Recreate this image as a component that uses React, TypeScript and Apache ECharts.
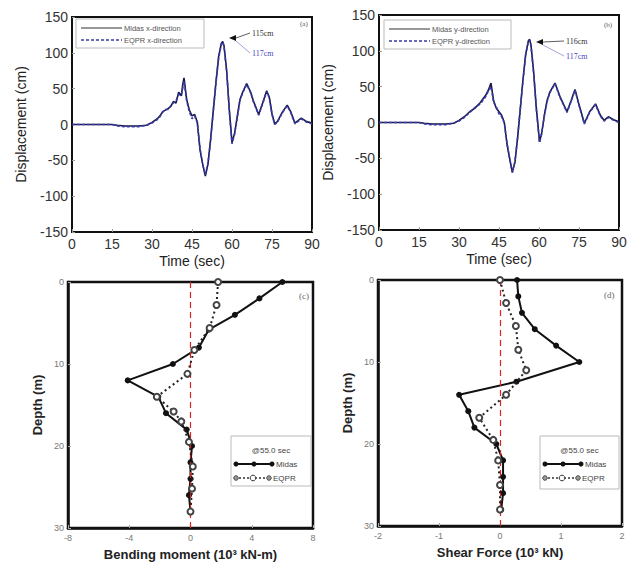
import React, { useEffect, useRef } from "react";
import * as echarts from "echarts";

// (a) x-direction displacement time history
const timeX = [0, 15, 17, 20, 25, 28, 30, 32, 33, 34, 35, 36, 37, 38, 39, 40, 41, 41.5, 42, 43, 44, 45, 46, 47, 48, 49, 50, 51, 52, 53, 54, 55, 56, 56.5, 57, 58, 59, 60, 61, 62, 63, 64, 65.5, 67, 68, 70, 71.5, 73, 74, 75, 76, 77, 79, 80.7, 82, 83.6, 85, 86, 88, 90];
const midasX = [0, 0, -1, -2, -2, -1, 3, 8, 12, 18, 20, 22, 25, 32, 30, 45, 40, 55, 65, 35, 20, 12, 14, 3, -35, -55, -72, -55, -20, 20, 60, 95, 113, 116, 110, 75, 20, -25, -12, 12, 35, 45, 57, 45, 33, 14, 30, 47, 38, 15, 1, 4, 18, 27, 18, 2, 6, 9, 4, 2];
const eqprX = [0, 0, -2, -3, -3, -1, 2, 7, 11, 17, 21, 21, 26, 30, 33, 42, 41, 50, 60, 33, 18, 8, 12, 2, -33, -56, -70, -54, -21, 19, 58, 93, 112, 115, 109, 74, 19, -27, -13, 10, 34, 44, 56, 44, 32, 13, 29, 46, 37, 14, 0, 3, 17, 26, 17, 1, 5, 8, 3, 1];

// (b) y-direction displacement time history
const timeY = [0, 15, 17, 20, 25, 28, 30, 32, 34, 36, 38, 40, 41, 42, 43, 44, 45, 46, 47, 48, 49, 50, 51, 52, 53, 54, 55, 56, 56.5, 57, 58, 59, 60.2, 61, 62, 63, 64, 66, 68, 70.5, 72, 73.5, 75, 77, 79, 81.2, 83, 84.4, 86, 88, 90];
const midasY = [0, 0, -1, -2, -2, -1, 3, 8, 15, 20, 28, 38, 45, 55, 30, 20, 15, 10, 0, -30, -50, -70, -55, -20, 20, 60, 95, 114, 116, 108, 70, 20, -27, -15, 10, 30, 42, 55, 35, 15, 30, 46, 25, -1, 15, 26, 10, 3, 8, 4, 1];
const eqprY = [0, 0, -2, -3, -3, -1, 2, 7, 14, 21, 26, 36, 44, 50, 28, 22, 12, 8, -1, -29, -51, -69, -54, -21, 19, 59, 94, 113, 115, 107, 69, 19, -28, -16, 9, 29, 41, 54, 34, 14, 29, 45, 24, -2, 14, 25, 9, 2, 7, 3, 0];

// (c) bending moment profile @55.0 sec
const momentMidasDepth = [0, 2, 4, 5.8, 8, 10, 12, 14, 16, 18, 20, 22, 24, 26, 28];
const momentMidas = [6.0, 4.5, 2.9, 1.2, 0.55, -1.15, -4.1, -2.1, -1.6, -0.25, 0.1, 0, 0, -0.1, 0];
const momentEqprDepth = [0, 2.8, 5.6, 8.3, 11.2, 14, 15.8, 17, 19.5, 22.5, 25.2, 28];
const momentEqpr = [1.8, 1.7, 1.25, 0.25, -0.2, -2.2, -1.1, -0.6, -0.1, 0.15, 0.1, 0];

// (d) shear force profile @55.0 sec
const shearMidasDepth = [0, 2, 4, 6, 8, 10, 12.4, 14, 16, 18, 20, 22, 24, 26, 28];
const shearMidas = [0.28, 0.3, 0.36, 0.57, 0.92, 1.3, 0.27, -0.67, -0.52, -0.42, -0.06, 0.05, 0.05, 0.05, 0.02];
const shearEqprDepth = [0, 2.8, 5.6, 8.5, 11, 14, 16.8, 19.5, 22, 25, 28];
const shearEqpr = [0, 0.1, 0.26, 0.3, 0.43, 0.1, -0.34, -0.11, -0.03, 0, 0];

const zip = (a: number[], b: number[]) => a.map((v, i) => [v, b[i]]);

const SANS = "Liberation Sans, Arial, sans-serif";
const SERIF = "Liberation Serif, Times New Roman, serif";

function topAxes(gridIndex: number, nameGapY: number) {
  const x = {
    type: "value", gridIndex, min: 0, max: 90, interval: 15,
    name: "Time (sec)", nameLocation: "middle", nameGap: 22,
    nameTextStyle: { fontFamily: SANS, fontSize: 14, color: "#222" },
    axisLine: { show: true, onZero: false, lineStyle: { color: "#111", width: 2 } },
    axisTick: { show: true, inside: true, length: 3, lineStyle: { color: "#999" } },
    axisLabel: { fontFamily: SANS, fontSize: 14, color: "#333", margin: 5 },
    splitLine: { show: false },
  };
  const y = {
    type: "value", gridIndex, min: -150, max: 150, interval: 50,
    name: "Displacement (cm)", nameLocation: "middle", nameGap: nameGapY,
    nameTextStyle: { fontFamily: SANS, fontSize: 14, color: "#222" },
    axisLine: { show: true, onZero: false, lineStyle: { color: "#111", width: 2 } },
    axisTick: { show: true, inside: true, length: 3, lineStyle: { color: "#999" } },
    axisLabel: { fontFamily: SANS, fontSize: 14, color: "#333", margin: 4 },
    splitLine: { show: false },
  };
  return { x, y };
}

function bottomAxes(gridIndex: number, min: number, max: number, interval: number, xname: string, nameGapY: number) {
  const x = {
    type: "value", gridIndex, min, max, interval,
    name: xname, nameLocation: "middle", nameGap: 20,
    nameTextStyle: { fontFamily: SANS, fontSize: 13, fontWeight: "bold", color: "#222" },
    axisLine: { show: true, onZero: false, lineStyle: { color: "#111", width: 2.5 } },
    axisTick: { show: true, inside: true, length: 3, lineStyle: { color: "#aaa" } },
    axisLabel: { fontFamily: SANS, fontSize: 9, color: "#777", margin: 5 },
    splitLine: { show: false },
  };
  const y = {
    type: "value", gridIndex, min: 0, max: 30, interval: 10, inverse: true,
    name: "Depth (m)", nameLocation: "middle", nameGap: nameGapY,
    nameTextStyle: { fontFamily: SANS, fontSize: 13, fontWeight: "bold", color: "#222" },
    axisLine: { show: true, onZero: false, lineStyle: { color: "#111", width: 2.5 } },
    axisTick: { show: true, inside: true, length: 3, lineStyle: { color: "#aaa" } },
    axisLabel: { fontFamily: SANS, fontSize: 9, color: "#777", margin: 4 },
    splitLine: { show: false },
  };
  return { x, y };
}

function depthLegend(x0: number, y0: number, w: number, h: number) {
  const r1 = y0 + 28, r2 = y0 + 42;
  return [
    { type: "rect", shape: { x: x0, y: y0, width: w, height: h }, style: { fill: "#fff", stroke: "#bbb", lineWidth: 1 }, z: 50 },
    { type: "text", x: x0 + w / 2, y: y0 + 14, style: { text: "@55.0 sec", fontFamily: SANS, fontSize: 8, fill: "#444", align: "center", verticalAlign: "middle" }, z: 51 },
    { type: "line", shape: { x1: x0 + 5, y1: r1, x2: x0 + 41, y2: r1 }, style: { stroke: "#111", lineWidth: 2 }, z: 51 },
    { type: "circle", shape: { cx: x0 + 5, cy: r1, r: 2.5 }, style: { fill: "#111" }, z: 52 },
    { type: "circle", shape: { cx: x0 + 23, cy: r1, r: 2.5 }, style: { fill: "#111" }, z: 52 },
    { type: "circle", shape: { cx: x0 + 41, cy: r1, r: 2.5 }, style: { fill: "#111" }, z: 52 },
    { type: "text", x: x0 + 45, y: r1, style: { text: "Midas", fontFamily: SANS, fontSize: 8, fill: "#444", verticalAlign: "middle" }, z: 51 },
    { type: "line", shape: { x1: x0 + 8, y1: r2, x2: x0 + 35, y2: r2 }, style: { stroke: "#333", lineWidth: 1.5, lineDash: [2, 2] }, z: 51 },
    { type: "circle", shape: { cx: x0 + 5, cy: r2, r: 2.3 }, style: { fill: "#999", stroke: "#333", lineWidth: 0.8 }, z: 52 },
    { type: "circle", shape: { cx: x0 + 22, cy: r2, r: 2.8 }, style: { fill: "#fff", stroke: "#333", lineWidth: 1 }, z: 52 },
    { type: "circle", shape: { cx: x0 + 38, cy: r2, r: 2.3 }, style: { fill: "#999", stroke: "#333", lineWidth: 0.8 }, z: 52 },
    { type: "text", x: x0 + 42, y: r2, style: { text: "EQPR", fontFamily: SANS, fontSize: 8, fill: "#444", verticalAlign: "middle" }, z: 51 },
  ];
}

function timeLegend(x0: number, y0: number, w: number, dir: string) {
  const r1 = y0 + 9, r2 = y0 + 21;
  return [
    { type: "rect", shape: { x: x0, y: y0, width: w, height: 29 }, style: { fill: "#fff", stroke: "#bbb", lineWidth: 1 }, z: 50 },
    { type: "line", shape: { x1: x0 + 5, y1: r1, x2: x0 + 46, y2: r1 }, style: { stroke: "#333", lineWidth: 1.2 }, z: 51 },
    { type: "text", x: x0 + 48, y: r1, style: { text: "Midas " + dir + "-direction", fontFamily: SANS, fontSize: 7.5, fill: "#555", verticalAlign: "middle" }, z: 51 },
    { type: "line", shape: { x1: x0 + 5, y1: r2, x2: x0 + 46, y2: r2 }, style: { stroke: "#3a3aa8", lineWidth: 1.5, lineDash: [3, 2] }, z: 51 },
    { type: "text", x: x0 + 48, y: r2, style: { text: "EQPR " + dir + "-direction", fontFamily: SANS, fontSize: 7.5, fill: "#555", verticalAlign: "middle" }, z: 51 },
  ];
}

function peakNote(ax: number, ay: number, tx: number, ty1: number, ty2: number, t1: string, t2: string) {
  return [
    { type: "polygon", shape: { points: [[ax, ay], [ax + 7, ay - 3], [ax + 7, ay + 3]] }, style: { fill: "#111" }, z: 60 },
    { type: "line", shape: { x1: ax + 7, y1: ay, x2: tx - 2, y2: ty1 }, style: { stroke: "#333", lineWidth: 0.8 }, z: 60 },
    { type: "line", shape: { x1: ax + 7, y1: ay + 3, x2: tx - 2, y2: ty2 }, style: { stroke: "#8a8ad0", lineWidth: 0.8 }, z: 60 },
    { type: "text", x: tx, y: ty1, style: { text: t1, fontFamily: SERIF, fontSize: 8, fill: "#333", verticalAlign: "middle" }, z: 60 },
    { type: "text", x: tx, y: ty2, style: { text: t2, fontFamily: SERIF, fontSize: 8, fill: "#4848c0", verticalAlign: "middle" }, z: 60 },
  ];
}

export default function App() {
  const ref = useRef<HTMLDivElement>(null);
  useEffect(() => {
    if (!ref.current) return;
    const chart = echarts.init(ref.current, null, { renderer: "svg" });
    const a = topAxes(0, 44);
    const b = topAxes(1, 44);
    const c = bottomAxes(2, -8, 8, 4, "Bending moment (10³ kN-m)", 24);
    const d = bottomAxes(3, -2, 2, 1, "Shear Force (10³ kN)", 24);
    const gridStyle = { show: true, borderColor: "#111", borderWidth: 2, backgroundColor: "#fff" };
    const midasLine = (xi: number, data: number[][]) => ({
      type: "line", xAxisIndex: xi, yAxisIndex: xi, data, showSymbol: false, symbol: "none",
      lineStyle: { color: "#1a1a40", width: 1.6 }, z: 3,
    });
    const eqprLine = (xi: number, data: number[][]) => ({
      type: "line", xAxisIndex: xi, yAxisIndex: xi, data, showSymbol: false, symbol: "none",
      lineStyle: { color: "#3a3ab0", width: 1.6, type: [3, 2] }, z: 4,
    });
    const zeroLine = {
      silent: true, symbol: "none", label: { show: false },
      lineStyle: { color: "#d22", type: [6, 4], width: 1.2 },
      data: [{ xAxis: 0 }],
    };
    const profMidas = (xi: number, data: number[][]) => ({
      type: "line", xAxisIndex: xi, yAxisIndex: xi, data, symbol: "circle", symbolSize: 6,
      itemStyle: { color: "#111" }, lineStyle: { color: "#111", width: 2 }, z: 4,
      markLine: zeroLine,
    });
    const profEqpr = (xi: number, data: number[][]) => ({
      type: "line", xAxisIndex: xi, yAxisIndex: xi, data, symbol: "emptyCircle", symbolSize: 6,
      itemStyle: { color: "#444", borderColor: "#333", borderWidth: 1.2 },
      lineStyle: { color: "#222", width: 2, type: [2, 3] }, z: 5,
    });
    chart.setOption({
      animation: false,
      backgroundColor: "#fff",
      grid: [
        { left: 72, top: 17, width: 240, height: 215, ...gridStyle },
        { left: 379, top: 15, width: 240, height: 215, ...gridStyle },
        { left: 68, top: 282, width: 245, height: 246, ...gridStyle, borderWidth: 2.5 },
        { left: 378, top: 280, width: 244, height: 246, ...gridStyle, borderWidth: 2.5 },
      ],
      xAxis: [a.x, b.x, c.x, d.x],
      yAxis: [a.y, b.y, c.y, d.y],
      series: [
        midasLine(0, zip(timeX, midasX)),
        eqprLine(0, zip(timeX, eqprX)),
        midasLine(1, zip(timeY, midasY)),
        eqprLine(1, zip(timeY, eqprY)),
        profMidas(2, zip(momentMidas, momentMidasDepth)),
        profEqpr(2, zip(momentEqpr, momentEqprDepth)),
        profMidas(3, zip(shearMidas, shearMidasDepth)),
        profEqpr(3, zip(shearEqpr, shearEqprDepth)),
      ],
      graphic: [
        ...timeLegend(76, 19, 128, "x"),
        ...timeLegend(384, 20, 127, "y"),
        ...peakNote(229, 38, 252, 33, 53, "115cm", "117cm"),
        ...peakNote(536, 42, 566, 41, 56, "116cm", "117cm"),
        ...depthLegend(231, 436, 80, 50),
        ...depthLegend(540, 436, 79, 53),
        { type: "text", x: 300, y: 24, style: { text: "(a)", fontFamily: SERIF, fontSize: 7, fill: "#555", verticalAlign: "middle" }, z: 60 },
        { type: "text", x: 604, y: 25, style: { text: "(b)", fontFamily: SERIF, fontSize: 7, fill: "#555", verticalAlign: "middle" }, z: 60 },
        { type: "text", x: 299, y: 296, style: { text: "(c)", fontFamily: SERIF, fontSize: 9, fill: "#666", verticalAlign: "middle" }, z: 60 },
        { type: "text", x: 604, y: 295, style: { text: "(d)", fontFamily: SERIF, fontSize: 9, fill: "#666", verticalAlign: "middle" }, z: 60 },
      ],
    });
    return () => chart.dispose();
  }, []);
  return <div ref={ref} style={{ position: "fixed", left: 0, top: 0, width: 636, height: 567 }} />;
}
